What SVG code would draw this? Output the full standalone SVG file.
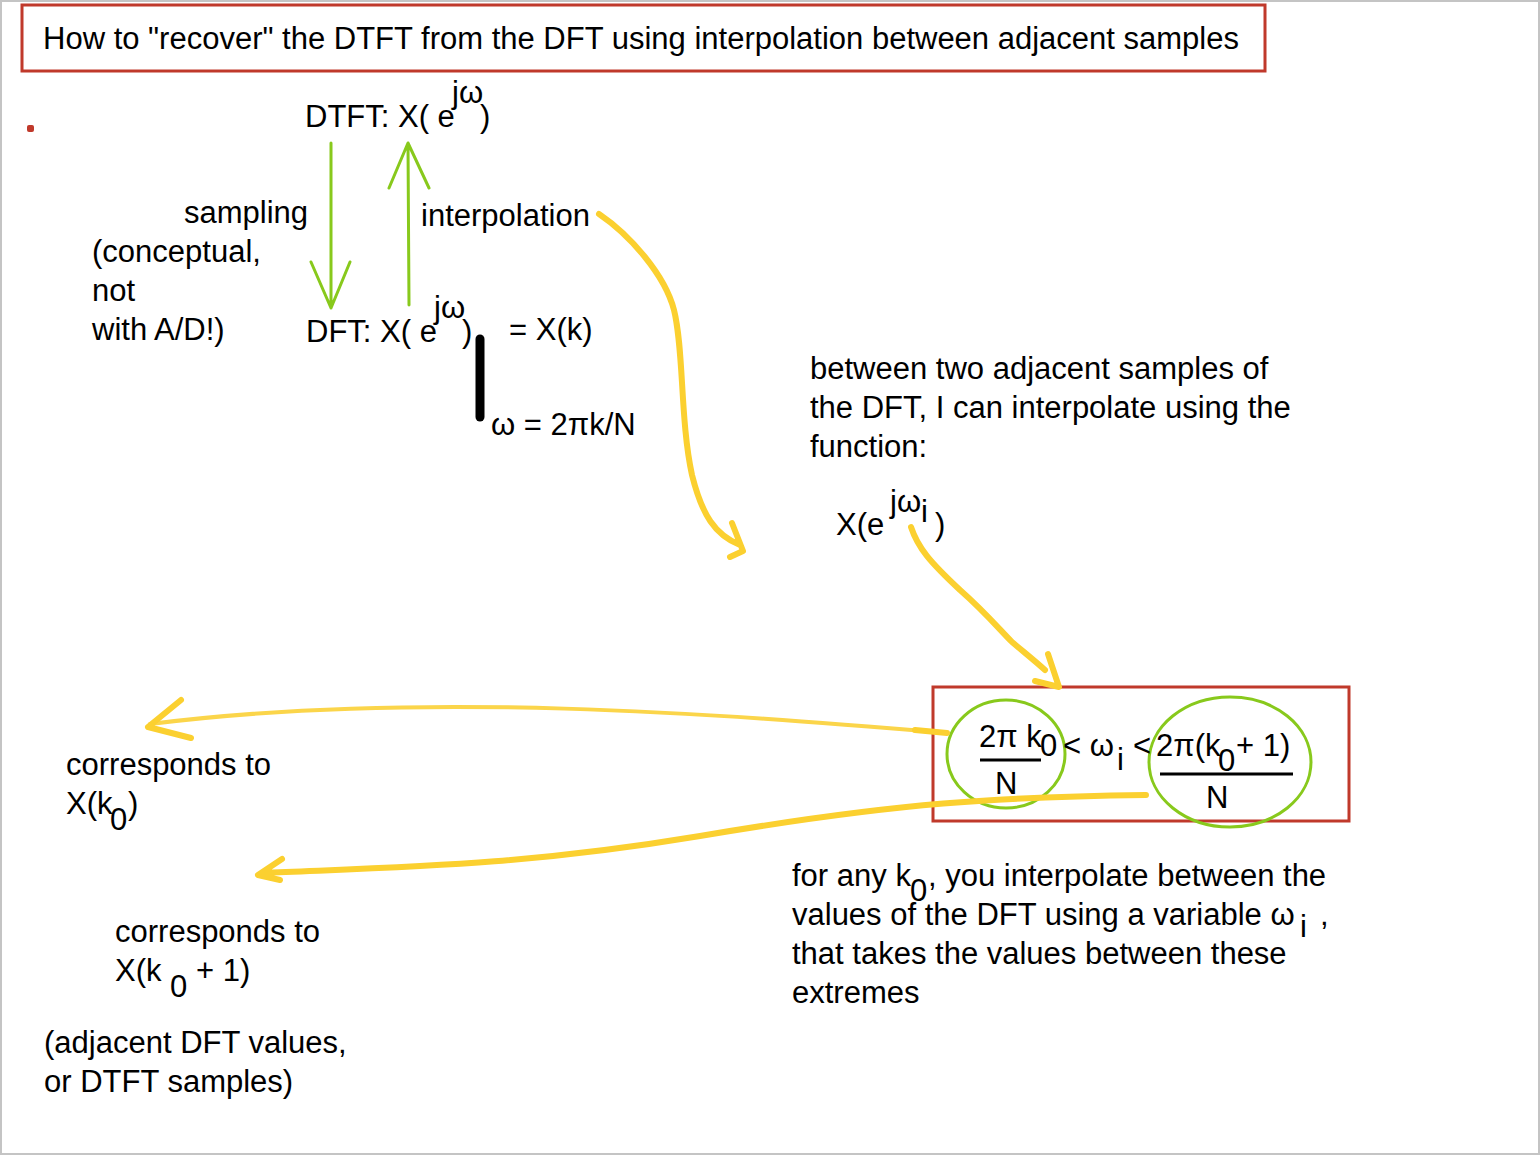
<svg xmlns="http://www.w3.org/2000/svg" width="1540" height="1155" viewBox="0 0 1540 1155">
<style>
text{font-family:"Liberation Sans",Arial,sans-serif;font-size:31px;fill:#000}
.title{font-size:31px}
.green{fill:none;stroke:#88c91c;stroke-width:3;stroke-linecap:round;stroke-linejoin:round}
.yel{fill:none;stroke:#fbd030;stroke-width:6;stroke-linecap:round;stroke-linejoin:round}
.yelthin{fill:none;stroke:#fbd54a;stroke-width:4;stroke-linecap:round;stroke-linejoin:round}
.redbox{fill:none;stroke:#c0392b;stroke-width:3}
.bar{stroke:#000;stroke-width:3}
</style>
<rect x="0" y="0" width="1540" height="1155" fill="#fff"/>
<rect x="1" y="1" width="1538" height="1153" fill="none" stroke="#c4c4c4" stroke-width="2"/>

<g id="title">
<rect class="redbox" x="22" y="5" width="1243" height="66"/>
<text class="title" x="43" y="49">How to "recover" the DTFT from the DFT using interpolation between adjacent samples</text>
</g>
<g id="dot"><rect x="27" y="125" width="7" height="7" rx="2" fill="#c0392b"/></g>

<g id="dtft">
<text x="305" y="127">DTFT: X( e</text>
<text x="452" y="103">jω</text>
<text x="480" y="127">)</text>
</g>
<g id="dft">
<text x="306" y="342">DFT: X( e</text>
<text x="434" y="318">jω</text>
<text x="462" y="342">)</text>
<text x="509" y="340">= X(k)</text>
<line x1="480" y1="339" x2="480" y2="417" stroke="#000" stroke-width="9" stroke-linecap="round"/>
<text x="491" y="435">ω = 2πk/N</text>
</g>
<g id="sampling-label">
<text x="184" y="223">sampling</text>
<text x="92" y="262">(conceptual,</text>
<text x="92" y="301">not</text>
<text x="92" y="340">with A/D!)</text>
</g>
<g id="interp-label"><text x="421" y="226">interpolation</text></g>

<g id="between-text">
<text x="810" y="379">between two adjacent samples of</text>
<text x="810" y="418">the DFT, I can interpolate using the</text>
<text x="810" y="457">function:</text>
</g>
<g id="xeomega">
<text x="836" y="535">X(e</text>
<text x="890" y="512">jω</text>
<text x="921" y="522">i</text>
<text x="935" y="535">)</text>
</g>

<g id="ineq">
<rect class="redbox" x="933" y="687" width="416" height="134"/>
<ellipse class="green" cx="1006" cy="754" rx="59" ry="54"/>
<ellipse class="green" cx="1230" cy="762" rx="81" ry="65"/>
<text x="979" y="747">2π k</text>
<text x="1040" y="756">0</text>
<line class="bar" x1="980" y1="760" x2="1041" y2="760"/>
<text x="995" y="794">N</text>
<text x="1063" y="756">&lt; ω</text>
<text x="1117" y="770">i</text>
<text x="1133" y="756">&lt;</text>
<text x="1156" y="756">2π(k</text>
<text x="1218" y="771">0</text>
<text x="1236" y="756">+ 1)</text>
<line class="bar" x1="1160" y1="774" x2="1293" y2="774"/>
<text x="1206" y="808">N</text>
</g>

<g id="corr1">
<text x="66" y="775">corresponds to</text>
<text x="66" y="814">X(k</text>
<text x="110" y="830">0</text>
<text x="128" y="814">)</text>
</g>
<g id="corr2">
<text x="115" y="942">corresponds to</text>
<text x="115" y="981">X(k</text>
<text x="170" y="997">0</text>
<text x="196" y="981">+ 1)</text>
</g>
<g id="adjacent">
<text x="44" y="1053">(adjacent DFT values,</text>
<text x="44" y="1092">or DTFT samples)</text>
</g>
<g id="forany">
<text x="792" y="886">for any k</text>
<text x="910" y="901">0</text>
<text x="928" y="886">, you interpolate between the</text>
<text x="792" y="925">values of the DFT using a variable ω</text>
<text x="1300" y="937">i</text>
<text x="1320" y="925">,</text>
<text x="792" y="964">that takes the values between these</text>
<text x="792" y="1003">extremes</text>
</g>

<g id="connectors">
<path class="green" d="M331,143 L331,308 M311,262 L331,308 L350,262"/>
<path class="green" d="M409,305 L408,143 M389,188 L408,143 L429,188"/>
<path class="yel" d="M599,214 C630,235 665,275 674,310 C684,350 680,420 692,475 C702,515 715,535 740,545 M732,523 L743,551 L730,557"/>
<path class="yel" d="M911,527 C918,548 930,562 960,590 C985,612 1000,630 1012,642 C1025,653 1035,661 1045,670 M1048,654 L1059,687 L1035,681"/>
<path class="yelthin" d="M947,733 C720,714 420,690 150,724"/>
<path class="yel" d="M947,733 L915,730 M181,700 L148,727 L191,738"/>
<path class="yel" d="M1146,795 C1000,797 900,802 700,836 C520,866 400,867 262,873 M282,859 L258,875 L280,880"/>
</g>
</svg>
